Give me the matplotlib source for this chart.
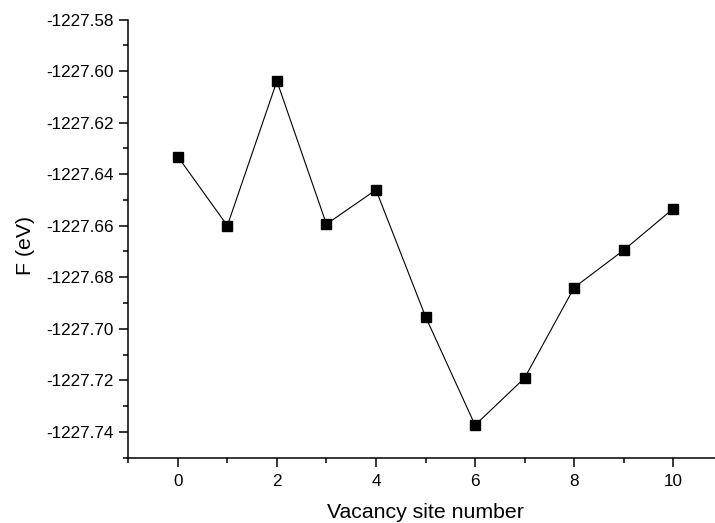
import matplotlib
matplotlib.use("Agg")
import matplotlib.pyplot as plt
from matplotlib.ticker import MultipleLocator, FormatStrFormatter

plt.rcParams['font.family'] = ['Liberation Sans', 'DejaVu Sans']

# Free energy for each vacancy site
site = [0, 1, 2, 3, 4, 5, 6, 7, 8, 9, 10]
energy = [-1227.6332, -1227.6600, -1227.6039, -1227.6594, -1227.6461,
          -1227.6953, -1227.7374, -1227.7191, -1227.6840, -1227.6695,
          -1227.6534]

fig = plt.figure(figsize=(7.15, 5.23), dpi=100)
ax = fig.add_axes([0.1794, 0.125, 0.8315, 0.8377])

ax.plot(site, energy, color='black', linewidth=0.8, marker='s',
        markersize=6.5, markerfacecolor='black', markeredgecolor='black')

ax.set_xlim(-1, 11)
ax.set_ylim(-1227.75, -1227.58)

ax.xaxis.set_major_locator(MultipleLocator(2))
ax.xaxis.set_minor_locator(MultipleLocator(1))
ax.yaxis.set_major_locator(MultipleLocator(0.02))
ax.yaxis.set_minor_locator(MultipleLocator(0.01))
ax.yaxis.set_major_formatter(FormatStrFormatter('%.2f'))
ax.xaxis.set_major_formatter(FormatStrFormatter('%d'))

for s in ('top', 'right'):
    ax.spines[s].set_visible(False)
for s in ('left', 'bottom'):
    ax.spines[s].set_linewidth(1.1)

ax.tick_params(which='major', direction='out', length=6.8, width=1.1,
               labelsize=12.3, pad=3.6)
ax.tick_params(axis='x', which='major', pad=5)
ax.tick_params(which='minor', direction='out', length=3.5, width=1.1)

# labelled ticks only at 0..10; the spine end at -1 keeps a minor tick
ax.set_xticks([0, 2, 4, 6, 8, 10])

ax.set_xlabel('Vacancy site number', fontsize=15.3, labelpad=10)
ax.set_ylabel('F (eV)', fontsize=15.3, labelpad=8)
ax.yaxis.label.set_y(0.485)

fig.savefig('out.png', dpi=100)
